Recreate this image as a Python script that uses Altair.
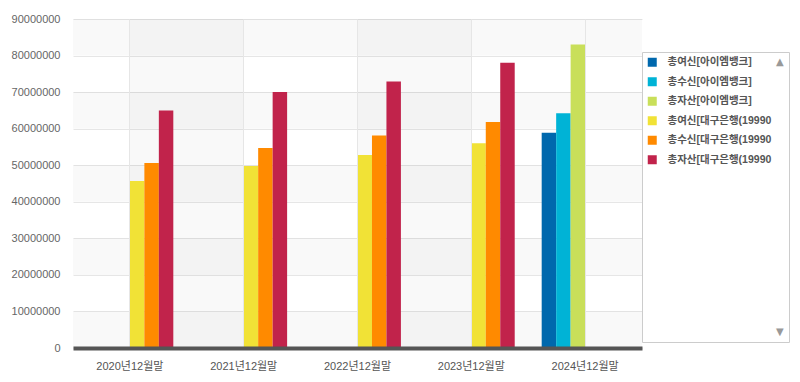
import altair as alt
import pandas as pd

# ---------------- data ----------------
categories = ["2020년12월말", "2021년12월말", "2022년12월말", "2023년12월말", "2024년12월말"]
series = ["총여신[아이엠뱅크]", "총수신[아이엠뱅크]", "총자산[아이엠뱅크]",
          "총여신[대구은행(19990", "총수신[대구은행(19990", "총자산[대구은행(19990"]
colors = ["#0068ad", "#00b3d6", "#c9df5a", "#f1e236", "#ff8a00", "#c1234b"]

im_loans = [None, None, None, None, 58900000]
im_deposits = [None, None, None, None, 64200000]
im_assets = [None, None, None, None, 83000000]
dg_loans = [45700000, 49800000, 52800000, 56000000, None]
dg_deposits = [50600000, 54700000, 58100000, 61800000, None]
dg_assets = [65000000, 70000000, 72900000, 78000000, None]

y_ticks = [0, 10000000, 20000000, 30000000, 40000000, 50000000,
           60000000, 70000000, 80000000, 90000000]

# ---------------- tables ----------------
all_series = [im_loans, im_deposits, im_assets, dg_loans, dg_deposits, dg_assets]
rows = []
for name, vals in zip(series, all_series):
    for cat, v in zip(categories, vals):
        if v is not None:
            rows.append({"cat": cat, "series": name, "value": v})
df = pd.DataFrame(rows)

row_bands = pd.DataFrame([{"lo": y_ticks[i], "hi": y_ticks[i + 1]}
                          for i in range(0, len(y_ticks) - 1, 2)])
col_bands = pd.DataFrame([{"a": categories[i], "b": categories[i + 1]} for i in (0, 2)])

font = "'Liberation Sans', 'Noto Sans CJK KR', sans-serif"

xscale = alt.Scale(domain=categories, paddingInner=0.237, paddingOuter=0.1185)
yscale = alt.Scale(domain=[0, 90000000], nice=False, zero=True)

x_axis = alt.Axis(grid=True, gridColor="#e6e6e6", bandPosition=0.5,
                  domainColor="#555555", domainWidth=4, ticks=False,
                  labelColor="#555555", labelFontSize=11, labelFont=font,
                  labelPadding=12, labelAngle=0, title=None)
y_axis = alt.Axis(values=y_ticks, format="d", grid=True, gridColor="#e6e6e6",
                  domain=False, ticks=False, labelColor="#666666",
                  labelFontSize=11, labelFont=font, labelPadding=13, title=None)

hbands = alt.Chart(row_bands).mark_rect(color="black", opacity=0.025).encode(
    y=alt.Y("lo:Q", scale=yscale, axis=y_axis),
    y2="hi:Q",
)

vbands = alt.Chart(col_bands).mark_rect(color="black", opacity=0.025).encode(
    x=alt.X("a:N", scale=xscale, axis=x_axis, bandPosition=0.5),
    x2=alt.X2("b", bandPosition=0.5),
)

legend_title = ["▲", "▼"]

bars = alt.Chart(df).mark_bar().encode(
    x=alt.X("cat:N", scale=xscale, sort=categories, axis=x_axis),
    xOffset=alt.XOffset("series:N", sort=series,
                        scale=alt.Scale(domain=series, paddingInner=0, paddingOuter=0)),
    y=alt.Y("value:Q", scale=yscale, axis=y_axis),
    color=alt.Color("series:N", sort=series,
                    scale=alt.Scale(domain=series, range=colors),
                    legend=alt.Legend(orient="none", legendX=569, legendY=33,
                                      title=legend_title, titleOrient="right",
                                      titleAnchor="start", titleFont="DejaVu Sans",
                                      titleFontSize=10, titleFontWeight="normal",
                                      titleColor="#999999", titleLineHeight=270,
                                      titlePadding=5,
                                      fillColor="white", strokeColor="#cccccc",
                                      padding=5, symbolType="square", symbolSize=81,
                                      symbolStrokeWidth=0, labelFont=font,
                                      labelFontSize=10.5, labelFontWeight="bold",
                                      labelColor="#555555", labelOffset=10,
                                      rowPadding=8.5, labelLimit=120)),
)

chart = alt.layer(hbands, vbands, bars).properties(
    width=569, height=329,
    padding={"left": 3, "top": 5, "right": 0, "bottom": 5},
    background="white",
).configure_view(stroke=None)

chart.save("out.html", embed_options={"renderer": "svg", "actions": False})
